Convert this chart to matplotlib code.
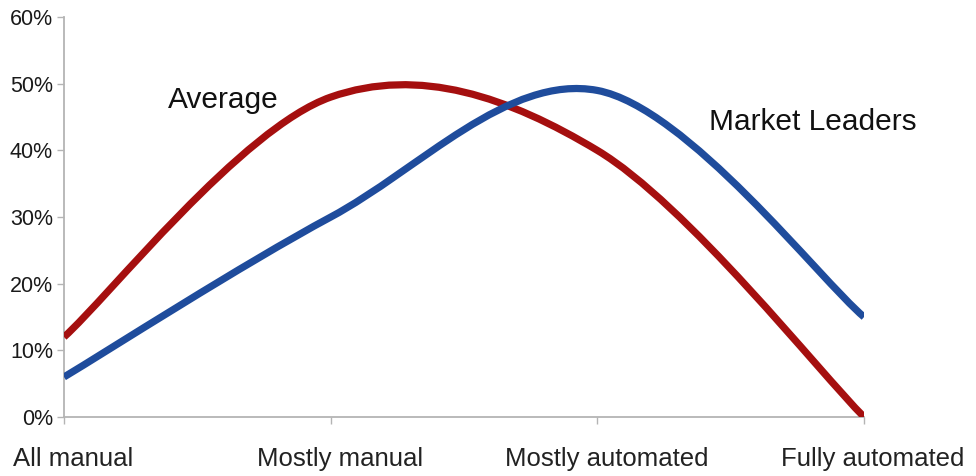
import matplotlib
matplotlib.use('Agg')
import matplotlib.pyplot as plt
import matplotlib.transforms as mtransforms
from matplotlib.path import Path
from matplotlib.patches import PathPatch

categories = ['All manual', 'Mostly manual', 'Mostly automated', 'Fully automated']
average = [12, 48, 40, 0]
leaders = [6, 30, 49, 15]
yticks = [0, 10, 20, 30, 40, 50, 60]


def smooth_path(xs, ys):
    # excel-style smoothed line: cubic bezier segments, catmull-rom control points
    n = len(xs)
    verts = [(xs[0], ys[0])]
    codes = [Path.MOVETO]
    for i in range(n - 1):
        i0 = max(i - 1, 0)
        i3 = min(i + 2, n - 1)
        c1 = (xs[i] + (xs[i + 1] - xs[i0]) / 6.0, ys[i] + (ys[i + 1] - ys[i0]) / 6.0)
        c2 = (xs[i + 1] - (xs[i3] - xs[i]) / 6.0, ys[i + 1] - (ys[i3] - ys[i]) / 6.0)
        verts += [c1, c2, (xs[i + 1], ys[i + 1])]
        codes += [Path.CURVE4] * 3
    return Path(verts, codes)


fig = plt.figure(figsize=(9.76, 4.76), dpi=100)
ax = fig.add_axes([0.0656, 0.124, 0.8197, 0.840])

x = list(range(len(categories)))
for vals, col in [(average, '#a50f0f'), (leaders, '#1f4c9c')]:
    ax.add_patch(PathPatch(smooth_path(x, vals), facecolor='none', edgecolor=col,
                           lw=5.2, capstyle='butt', joinstyle='round', zorder=3))

ax.set_xlim(0, 3)
ax.set_ylim(0, 60)
ax.set_yticks(yticks)
ax.set_yticklabels(['%d%%' % v for v in yticks], fontsize=15.5,
                   family='Liberation Sans', color='#1a1a1a')
ax.set_xticks(x)
ax.set_xticklabels([])

# category labels, drawn a little right of and below their tick marks
shift = mtransforms.ScaledTranslation(9 / 100, -30 / 100, fig.dpi_scale_trans)
for xi, name in zip(x, categories):
    ax.text(xi, 0, name, transform=ax.get_xaxis_transform() + shift,
            fontsize=18.5, family='Liberation Sans', color='#222222',
            ha='center', va='top', clip_on=False)

for s in ['top', 'right']:
    ax.spines[s].set_visible(False)
for s in ['left', 'bottom']:
    ax.spines[s].set_color('#b4b4b4')
    ax.spines[s].set_linewidth(1.3)
ax.tick_params(axis='y', length=5, width=1.0, color='#b4b4b4', pad=3)
ax.tick_params(axis='x', length=5, width=1.0, color='#b4b4b4')

ax.text(0.39, 47.5, 'Average', fontsize=21.5, family='Liberation Sans', color='#111111',
        ha='left', va='center')
ax.text(2.42, 44.2, 'Market Leaders', fontsize=21.5, family='Liberation Sans', color='#111111',
        ha='left', va='center')

fig.savefig('out.png', dpi=100)
